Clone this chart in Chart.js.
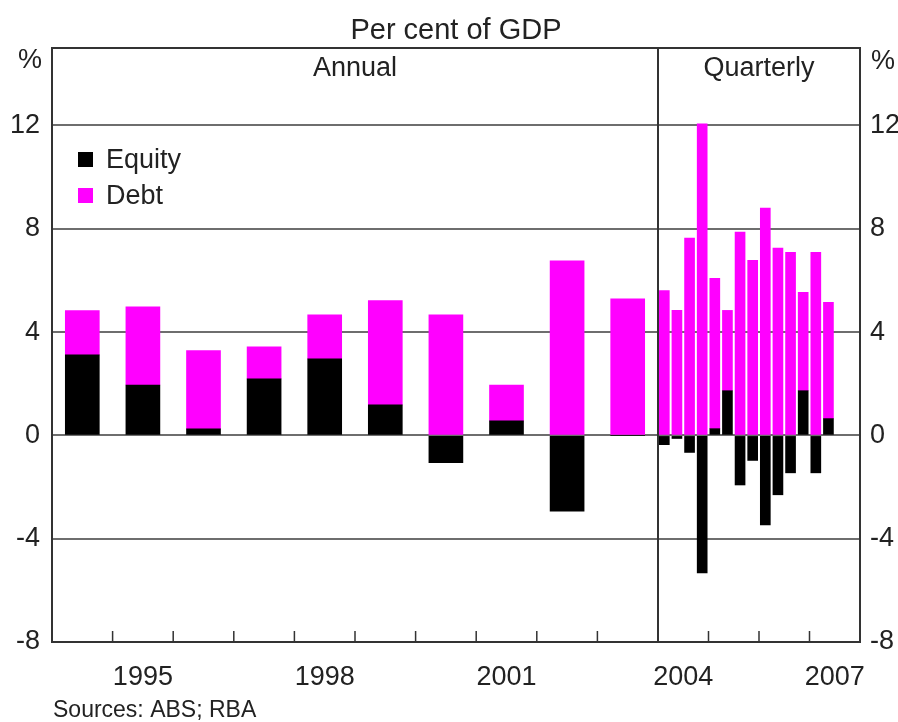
<!DOCTYPE html>
<html>
<head>
<meta charset="utf-8">
<script src="https://cdn.jsdelivr.net/npm/chart.js@4/dist/chart.umd.min.js"></script>
<style>
  html, body { margin: 0; padding: 0; background: #fff; }
  canvas { display: block; }
</style>
</head>
<body>
<canvas id="flowsChart" width="898" height="722"></canvas>
<script>
// Annual, per cent of GDP
const annualYears = [1994, 1995, 1996, 1997, 1998, 1999, 2000, 2001, 2002, 2003];
const annualEquity = [3.12, 1.95, 0.25, 2.19, 2.96, 1.18, -1.06, 0.56, -2.93, 0];
const annualDebt = [1.71, 3.03, 3.03, 1.24, 1.71, 4.04, 4.67, 1.39, 6.76, 5.29];

// Quarterly, 2004 Q1 to 2007 Q2
const quarters = [
  "2004Q1", "2004Q2", "2004Q3", "2004Q4",
  "2005Q1", "2005Q2", "2005Q3", "2005Q4",
  "2006Q1", "2006Q2", "2006Q3", "2006Q4",
  "2007Q1", "2007Q2",
];
const quarterlyEquity = [-0.36, -0.12, -0.66, -5.33, 0.26, 1.73, -1.92, -0.97, -3.47, -2.3, -1.45, 1.73, -1.45, 0.65];
const quarterlyDebt = [5.61, 4.84, 7.64, 12.06, 5.82, 3.11, 7.87, 6.78, 8.8, 7.25, 7.09, 3.81, 7.09, 4.5];

const quarterYears = [2004, 2005, 2006, 2007];
const yTicks = [-8, -4, 0, 4, 8, 12];
const xTickLabels = ["1995", "1998", "2001", "2004", "2007"];

// x axis is measured in quarter slots; an annual year is drawn wider than a quarterly year
const ANNUAL_SLOTS = 4.8;
const QUARTERS_PER_YEAR = 4;
const annualEnd = annualYears.length * ANNUAL_SLOTS;
const xMax = annualEnd + quarterYears.length * QUARTERS_PER_YEAR;

function annualPos(year) {
  return (year - annualYears[0]) * ANNUAL_SLOTS + ANNUAL_SLOTS / 2;
}
function quarterPos(label) {
  const year = parseInt(label.slice(0, 4));
  const q = parseInt(label.slice(5));
  return annualEnd + (year - quarterYears[0]) * QUARTERS_PER_YEAR + q - 0.5;
}
function yearCentre(label) {
  const year = parseInt(label);
  if (year < quarterYears[0]) return annualPos(year);
  return annualEnd + (year - quarterYears[0]) * QUARTERS_PER_YEAR + QUARTERS_PER_YEAR / 2;
}

const FONT = "'Liberation Sans', Arial, sans-serif";
const TEXT = "#222";
const EQUITY = "#000000";
const DEBT = "#ff00ff";

const decorations = {
  id: "decorations",
  afterDraw(chart) {
    const { ctx, chartArea } = chart;
    const x = chart.scales.x;
    const { left, right, top, bottom } = chartArea;
    ctx.save();

    // frame and annual/quarterly divider
    ctx.strokeStyle = "#333";
    ctx.lineWidth = 2;
    ctx.strokeRect(left, top, right - left, bottom - top);
    const divX = x.getPixelForValue(annualEnd);
    ctx.beginPath();
    ctx.moveTo(divX, top);
    ctx.lineTo(divX, bottom);
    ctx.stroke();

    // year boundary ticks along the bottom
    ctx.lineWidth = 1.5;
    ctx.beginPath();
    for (let i = 1; i < annualYears.length; i++) {
      const px = x.getPixelForValue(i * ANNUAL_SLOTS);
      ctx.moveTo(px, bottom - 11);
      ctx.lineTo(px, bottom);
    }
    for (let i = 1; i < quarterYears.length; i++) {
      const px = x.getPixelForValue(annualEnd + i * QUARTERS_PER_YEAR);
      ctx.moveTo(px, bottom - 11);
      ctx.lineTo(px, bottom);
    }
    ctx.stroke();

    ctx.fillStyle = TEXT;
    ctx.textBaseline = "middle";
    ctx.textAlign = "center";
    ctx.font = "29px " + FONT;
    ctx.fillText("Per cent of GDP", (left + right) / 2, 31);

    ctx.font = "27px " + FONT;
    ctx.fillText("Annual", (left + divX) / 2, 69);
    ctx.fillText("Quarterly", (divX + right) / 2, 69);
    ctx.fillText("%", 30, 61);
    ctx.fillText("%", 883, 62);

    // legend
    ctx.textAlign = "left";
    ctx.fillStyle = EQUITY;
    ctx.fillRect(78, 152, 15, 15);
    ctx.fillStyle = DEBT;
    ctx.fillRect(78, 188, 15, 15);
    ctx.fillStyle = TEXT;
    ctx.fillText("Equity", 106, 161);
    ctx.fillText("Debt", 106, 197);

    ctx.font = "23px " + FONT;
    ctx.fillText("Sources: ABS; RBA", 53, 711);
    ctx.restore();
  },
};

const ctx = document.getElementById("flowsChart").getContext("2d");

window.flowsChart = new Chart(ctx, {
  type: "bar",
  data: {
    datasets: [
      {
        label: "Equity",
        data: annualYears.map((yr, i) => ({ x: annualPos(yr), y: annualEquity[i] })),
        backgroundColor: EQUITY,
        barThickness: 34,
        stack: "flows",
      },
      {
        label: "Debt",
        data: annualYears.map((yr, i) => ({ x: annualPos(yr), y: annualDebt[i] })),
        backgroundColor: DEBT,
        barThickness: 34,
        stack: "flows",
      },
      {
        label: "Equity (quarterly)",
        data: quarters.map((q, i) => ({ x: quarterPos(q), y: quarterlyEquity[i] })),
        backgroundColor: EQUITY,
        barThickness: 10,
        stack: "flows",
      },
      {
        label: "Debt (quarterly)",
        data: quarters.map((q, i) => ({ x: quarterPos(q), y: quarterlyDebt[i] })),
        backgroundColor: DEBT,
        barThickness: 10,
        stack: "flows",
      },
    ],
  },
  options: {
    responsive: false,
    animation: false,
    layout: { padding: { top: 48, left: 0, right: 0, bottom: 0 } },
    plugins: {
      legend: { display: false },
      tooltip: { enabled: false },
      title: { display: false },
    },
    scales: {
      x: {
        type: "linear",
        stacked: true,
        min: 0,
        max: xMax,
        offset: false,
        grid: { display: false, drawTicks: false },
        border: { display: false },
        afterBuildTicks: (scale) => {
          scale.ticks = xTickLabels.map((l) => ({ value: yearCentre(l) }));
        },
        afterFit: (scale) => {
          scale.height = 80;
        },
        ticks: {
          autoSkip: false,
          maxRotation: 0,
          padding: 19,
          color: TEXT,
          font: { family: FONT, size: 27 },
          callback: (value) => {
            const found = xTickLabels.find((l) => Math.abs(yearCentre(l) - value) < 1e-6);
            return found || "";
          },
        },
      },
      y: {
        position: "left",
        stacked: true,
        min: -8,
        max: 15,
        grid: { color: "#6e6e6e", lineWidth: 2, drawTicks: false },
        border: { display: false },
        afterBuildTicks: (scale) => {
          scale.ticks = yTicks.map((v) => ({ value: v }));
        },
        afterFit: (scale) => {
          scale.width = 52;
        },
        ticks: {
          padding: 12,
          color: TEXT,
          font: { family: FONT, size: 27 },
        },
      },
      yRight: {
        position: "right",
        display: true,
        min: -8,
        max: 15,
        grid: { display: false, drawTicks: false },
        border: { display: false },
        afterBuildTicks: (scale) => {
          scale.ticks = yTicks.map((v) => ({ value: v }));
        },
        afterFit: (scale) => {
          scale.width = 38;
        },
        ticks: {
          padding: 10,
          color: TEXT,
          font: { family: FONT, size: 27 },
        },
      },
    },
  },
  plugins: [decorations],
});
</script>
</body>
</html>
